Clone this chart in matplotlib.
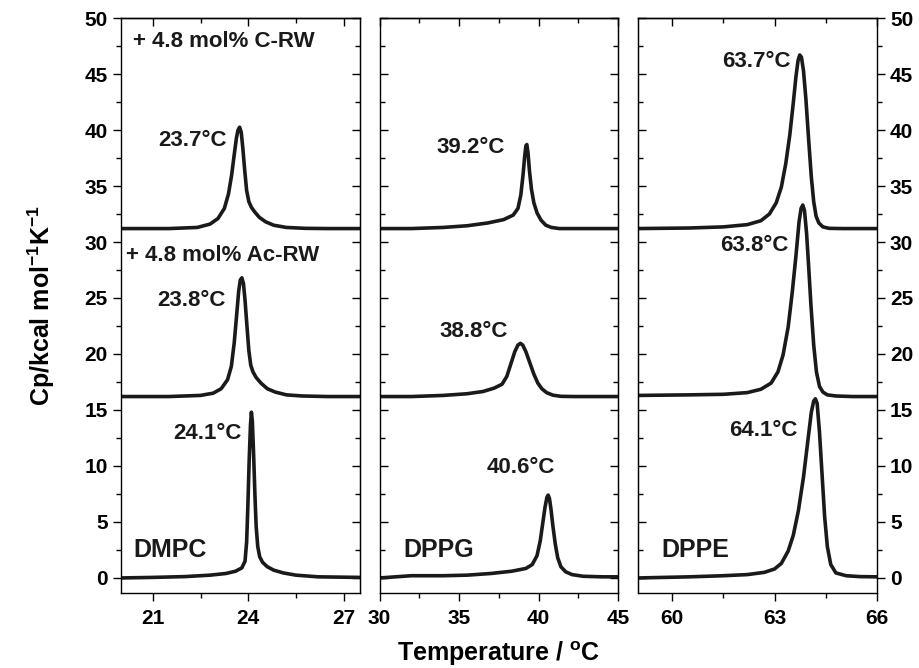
import matplotlib
matplotlib.use("Agg")
import matplotlib.pyplot as plt
from matplotlib.ticker import MultipleLocator

plt.rcParams['font.family'] = ['Liberation Sans', 'DejaVu Sans']
plt.rcParams['font.weight'] = 'bold'
plt.rcParams['mathtext.fontset'] = 'custom'
plt.rcParams['mathtext.rm'] = 'Liberation Sans:bold'
plt.rcParams['mathtext.bf'] = 'Liberation Sans:bold'
plt.rcParams['mathtext.default'] = 'bf'

# ---------------- data ----------------
# DMPC panel
dmpc_x = [20.0, 21.0, 22.0, 22.8, 23.3, 23.6, 23.8, 23.9, 23.95, 23.99, 24.03, 24.07, 24.1, 24.13, 24.17, 24.21, 24.25, 24.3, 24.36, 24.45, 24.6, 24.8, 25.1, 25.5, 26.2, 27.5]
dmpc_y = [0.0, 0.05, 0.12, 0.25, 0.4, 0.6, 0.9, 1.5, 3.2, 6.5, 10.5, 13.6, 14.8, 14.0, 11.0, 7.5, 4.6, 2.8, 1.9, 1.4, 1.0, 0.7, 0.45, 0.25, 0.1, 0.05]
dmpc_ac_x = [20.0, 21.5, 22.5, 22.9, 23.15, 23.35, 23.47, 23.56, 23.64, 23.7, 23.75, 23.8, 23.85, 23.9, 23.96, 24.02, 24.08, 24.15, 24.25, 24.4, 24.6, 24.85, 25.2, 25.7, 26.5, 27.5]
dmpc_ac_y = [16.2, 16.2, 16.3, 16.5, 16.9, 17.7, 18.9, 21.0, 23.6, 25.6, 26.6, 26.8, 26.3, 24.8, 22.5, 20.3, 19.0, 18.4, 17.9, 17.4, 16.9, 16.6, 16.35, 16.25, 16.2, 16.2]
dmpc_c_x = [20.0, 21.5, 22.4, 22.8, 23.05, 23.25, 23.38, 23.48, 23.56, 23.63, 23.68, 23.73, 23.78, 23.83, 23.89, 23.95, 24.02, 24.1, 24.2, 24.35, 24.55, 24.8, 25.2, 25.8, 26.5, 27.5]
dmpc_c_y = [31.2, 31.2, 31.3, 31.6, 32.1, 33.0, 34.3, 36.0, 37.8, 39.3, 40.0, 40.25, 39.8, 38.4, 36.4, 34.6, 33.6, 33.1, 32.7, 32.2, 31.8, 31.5, 31.3, 31.22, 31.2, 31.2]

# DPPG panel
dppg_x = [30, 31, 32, 33, 34, 35.5, 37, 38.3, 39.2, 39.6, 39.9, 40.1, 40.25, 40.4, 40.52, 40.6, 40.68, 40.78, 40.9, 41.05, 41.2, 41.4, 41.7, 42.1, 42.8, 44, 45]
dppg_y = [0.0, 0.1, 0.2, 0.2, 0.2, 0.25, 0.4, 0.6, 0.85, 1.2, 2.0, 3.3, 4.8, 6.3, 7.2, 7.4, 7.1, 6.1, 4.6, 3.0, 1.8, 1.0, 0.55, 0.3, 0.15, 0.1, 0.1]
dppg_ac_x = [30, 32, 34, 35.5, 36.5, 37.2, 37.7, 38.0, 38.25, 38.5, 38.7, 38.85, 39.0, 39.2, 39.45, 39.7, 39.95, 40.2, 40.5, 40.9, 41.4, 42.2, 45]
dppg_ac_y = [16.2, 16.2, 16.3, 16.45, 16.65, 16.95, 17.3, 18.0, 19.1, 20.2, 20.8, 20.95, 20.8, 20.2, 19.2, 18.2, 17.4, 16.9, 16.55, 16.32, 16.22, 16.2, 16.2]
dppg_c_x = [30, 32, 34, 35.5, 36.8, 37.8, 38.4, 38.7, 38.88, 39.02, 39.12, 39.2, 39.26, 39.33, 39.42, 39.55, 39.7, 39.9, 40.15, 40.45, 40.8, 41.3, 42, 45]
dppg_c_y = [31.2, 31.2, 31.3, 31.45, 31.7, 32.0, 32.4, 33.0, 34.2, 36.0, 37.6, 38.6, 38.7, 38.0, 36.4, 34.7, 33.5, 32.6, 31.95, 31.5, 31.3, 31.2, 31.2, 31.2]

# DPPE panel
dppe_x = [59, 60.5, 61.5, 62.2, 62.7, 63.0, 63.2, 63.4, 63.55, 63.7, 63.85, 63.98, 64.08, 64.15, 64.2, 64.25, 64.32, 64.4, 64.47, 64.55, 64.65, 64.8, 65.1, 65.5, 66]
dppe_y = [0.0, 0.1, 0.2, 0.3, 0.5, 0.8, 1.3, 2.4, 3.8, 6.0, 9.0, 12.3, 14.8, 15.8, 16.0, 15.6, 13.0, 9.0, 5.5, 2.8, 1.2, 0.45, 0.2, 0.12, 0.1]
dppe_ac_x = [59, 60.5, 61.5, 62.2, 62.6, 62.9, 63.1, 63.25, 63.4, 63.52, 63.63, 63.72, 63.78, 63.83, 63.88, 63.94, 64.0, 64.07, 64.15, 64.23, 64.32, 64.42, 64.55, 64.8, 65.3, 66]
dppe_ac_y = [16.3, 16.35, 16.4, 16.55, 16.85, 17.4, 18.4, 19.9, 22.4, 25.5, 28.8, 31.8, 33.0, 33.3, 32.8, 30.8, 27.9, 24.3, 20.8, 18.4, 17.1, 16.6, 16.35, 16.25, 16.2, 16.2]
dppe_c_x = [59, 60.5, 61.5, 62.2, 62.6, 62.85, 63.05, 63.2, 63.33, 63.45, 63.55, 63.63, 63.69, 63.74, 63.79, 63.85, 63.92, 64.0, 64.08, 64.15, 64.22, 64.3, 64.42, 64.6, 65, 66]
dppe_c_y = [31.2, 31.25, 31.35, 31.55, 31.9, 32.5, 33.5, 34.9, 37.0, 39.6, 42.4, 44.8, 46.2, 46.7, 46.5, 45.3, 42.8, 39.2, 35.8, 33.6, 32.3, 31.7, 31.35, 31.22, 31.2, 31.2]

lipids = ['DMPC', 'DPPG', 'DPPE']
xlims = [(20, 27.5), (30, 45), (59, 66)]
xmajor = [3, 5, 3]
xticks = [[21, 24, 27], [30, 35, 40, 45], [60, 63, 66]]
peak_labels = [['24.1°C', '23.8°C', '23.7°C'],
               ['40.6°C', '38.8°C', '39.2°C'],
               ['64.1°C', '63.8°C', '63.7°C']]
# right-end anchor of each peak label
peak_label_pos = [[(23.8, 12.9), (23.28, 24.8), (23.34, 39.1)],
                  [(41.0, 9.9), (38.05, 22.0), (37.9, 38.4)],
                  [(63.66, 13.2), (63.4, 29.7), (63.46, 46.1)]]
name_pos = [(20.38, 2.5), (31.5, 2.5), (59.67, 2.5)]

curves = [[(dmpc_x, dmpc_y), (dmpc_ac_x, dmpc_ac_y), (dmpc_c_x, dmpc_c_y)],
          [(dppg_x, dppg_y), (dppg_ac_x, dppg_ac_y), (dppg_c_x, dppg_c_y)],
          [(dppe_x, dppe_y), (dppe_ac_x, dppe_ac_y), (dppe_c_x, dppe_c_y)]]

fig = plt.figure(figsize=(9.2, 6.68), dpi=100)
gs = fig.add_gridspec(1, 3, left=0.1315, right=0.953, top=0.973, bottom=0.113, wspace=0.084)

lw_frame = 1.0
fs_tick = 15
fs_lab = 16
ink = '#1a1a1a'

for i in range(3):
    ax = fig.add_subplot(gs[0, i])
    for (xs, ys) in curves[i]:
        ax.plot(xs, ys, color=ink, lw=2.6, solid_joinstyle='round', solid_capstyle='round')
    ax.set_xlim(*xlims[i])
    ax.set_ylim(-1.3, 50)
    for sp in ax.spines.values():
        sp.set_linewidth(lw_frame)
    ax.set_xticks(xticks[i])
    ax.xaxis.set_minor_locator(MultipleLocator(xmajor[i] / 2))
    ax.yaxis.set_major_locator(MultipleLocator(5))
    ax.yaxis.set_minor_locator(MultipleLocator(2.5))
    ax.tick_params(axis='x', which='major', direction='out', length=6, width=1.0,
                   labelsize=fs_tick, pad=6)
    ax.tick_params(axis='x', which='minor', direction='out', length=3.5, width=1.0)
    for lab in ax.get_xticklabels():
        lab.set_fontweight('bold')
    # top ticks inward
    sec = ax.secondary_xaxis('top')
    sec.set_xticks(xticks[i])
    sec.xaxis.set_minor_locator(MultipleLocator(xmajor[i] / 2))
    sec.tick_params(axis='x', which='major', direction='in', length=6, width=1.0, labeltop=False)
    sec.tick_params(axis='x', which='minor', direction='in', length=3.5, width=1.0)
    sec.spines['top'].set_linewidth(lw_frame)

    if i == 0:
        ax.tick_params(axis='y', which='major', direction='out', length=6, width=1.0, labelsize=fs_tick)
        ax.tick_params(axis='y', which='minor', direction='out', length=3.5, width=1.0)
        sy = ax.secondary_yaxis('right')
        sy.yaxis.set_major_locator(MultipleLocator(5))
        sy.yaxis.set_minor_locator(MultipleLocator(2.5))
        sy.tick_params(axis='y', which='major', direction='in', length=6, width=1.0, labelright=False)
        sy.tick_params(axis='y', which='minor', direction='in', length=3.5, width=1.0)
        for lab in ax.get_yticklabels():
            lab.set_fontweight('bold')
    elif i == 1:
        ax.tick_params(axis='y', which='major', direction='in', length=6, width=1.0, labelleft=False)
        ax.tick_params(axis='y', which='minor', direction='in', length=3.5, width=1.0)
        sy = ax.secondary_yaxis('right')
        sy.yaxis.set_major_locator(MultipleLocator(5))
        sy.yaxis.set_minor_locator(MultipleLocator(2.5))
        sy.tick_params(axis='y', which='major', direction='in', length=6, width=1.0, labelright=False)
        sy.tick_params(axis='y', which='minor', direction='in', length=3.5, width=1.0)
    else:
        ax.yaxis.tick_right()
        ax.tick_params(axis='y', which='major', direction='out', length=6, width=1.0, labelsize=fs_tick)
        ax.tick_params(axis='y', which='minor', direction='out', length=3.5, width=1.0)
        for lab in ax.get_yticklabels():
            lab.set_fontweight('bold')
        sy = ax.secondary_yaxis('left')
        sy.yaxis.set_major_locator(MultipleLocator(5))
        sy.yaxis.set_minor_locator(MultipleLocator(2.5))
        sy.tick_params(axis='y', which='major', direction='in', length=6, width=1.0, labelleft=False)
        sy.tick_params(axis='y', which='minor', direction='in', length=3.5, width=1.0)

    for lab, (px, py) in zip(peak_labels[i], peak_label_pos[i]):
        ax.text(px, py, lab, fontsize=fs_lab, fontweight='bold', ha='right', va='center', color=ink)
    ax.text(name_pos[i][0], name_pos[i][1], lipids[i], fontsize=18, fontweight='bold',
            ha='left', va='center', color=ink)

    if i == 0:
        ax.text(20.38, 47.9, '+ 4.8 mol% C-RW', fontsize=fs_lab, fontweight='bold', ha='left', va='center', color=ink)
        ax.text(20.15, 28.8, '+ 4.8 mol% Ac-RW', fontsize=fs_lab, fontweight='bold', ha='left', va='center', color=ink)
        ax.set_ylabel('Cp/kcal mol$^{-1}$K$^{-1}$', fontsize=18, fontweight='bold', labelpad=20)
    if i == 1:
        ax.set_xlabel('Temperature / $^{o}$C', fontsize=18, fontweight='bold', labelpad=8)

fig.savefig('out.png', dpi=100)
